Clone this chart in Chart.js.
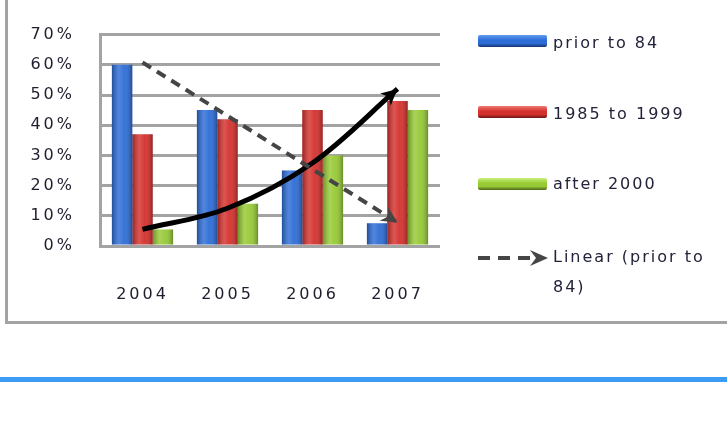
<!DOCTYPE html>
<html>
<head>
<meta charset="utf-8">
<script src="https://cdn.jsdelivr.net/npm/chart.js@4"></script>
<style>
  html, body { margin: 0; padding: 0; background: #fff; }
  #wrap { position: relative; width: 727px; height: 425px; overflow: hidden; }
  #c { position: absolute; left: 0; top: 0; }
  .frame { position: absolute; left: 5px; top: -10px; width: 740px; height: 331px;
           border-left: 3px solid #a3a3a3; border-bottom: 3px solid #a3a3a3; }
  .blue { position: absolute; left: 0; top: 377px; width: 727px; height: 5px; background: #3c9bf2; }
  .lg-mark { position: absolute; left: 478px; width: 69px; height: 12px; border-radius: 2px; }
  .lg-text { position: absolute; left: 553px; width: 170px; font: 16px "DejaVu Sans", sans-serif;
             letter-spacing: 2px; color: #22223a; line-height: 30px; white-space: normal; }
  .lg-line { position: absolute; left: 476px; }
</style>
</head>
<body>
<div id="wrap">
  <canvas id="c" width="727" height="425"></canvas>
  <div class="frame"></div>
  <div class="blue"></div>
  <div id="legend"></div>
</div>
<script>
const categories = ['2004', '2005', '2006', '2007'];
const yTickLabels = ['0%', '10%', '20%', '30%', '40%', '50%', '60%', '70%'];
const seriesNames = ['prior to 84', '1985 to 1999', 'after 2000', 'Linear (prior to 84)'];
const prior84 = [60, 45, 25, 7.5];
const from1985 = [37, 42, 45, 48];
const after2000 = [5.5, 14, 30, 45];
const linearPrior84 = [60.8, 43.1, 25.4, 7.8];
const handCurve = [5.5, 12.5, 27.5, 52];

const barColors = ['#2c6cd6', '#d4302c', '#96c934'];
const barLight = ['#5f9cf0', '#f07a74', '#c8f07a'];

const spacingPlugin = {
  id: 'spacing',
  beforeLayout(chart) { chart.ctx.letterSpacing = '3px'; },
  beforeDraw(chart) { chart.ctx.letterSpacing = '3px'; }
};

const shadePlugin = {
  id: 'shade',
  afterDatasetDraw(chart, args) {
    const meta = args.meta;
    if (meta.type !== 'bar') return;
    const ctx = chart.ctx;
    ctx.save();
    meta.data.forEach(el => {
      const p = el.getProps(['x', 'y', 'base', 'width'], true);
      const left = p.x - p.width / 2;
      const g = ctx.createLinearGradient(left, 0, left + p.width, 0);
      g.addColorStop(0, 'rgba(0,0,0,0.28)');
      g.addColorStop(0.35, 'rgba(255,255,255,0.18)');
      g.addColorStop(0.6, 'rgba(255,255,255,0.05)');
      g.addColorStop(1, 'rgba(0,0,0,0.3)');
      ctx.fillStyle = g;
      ctx.fillRect(left, p.y, p.width, p.base - p.y);
    });
    ctx.restore();
  }
};

const arrowPlugin = {
  id: 'arrows',
  afterDatasetsDraw(chart) {
    const ctx = chart.ctx;
    chart.data.datasets.forEach((ds, i) => {
      if (!ds.arrow) return;
      const meta = chart.getDatasetMeta(i);
      const pts = meta.data;
      const last = pts[pts.length - 1];
      const prev = pts[pts.length - 2];
      let fx = prev.x, fy = prev.y;
      if (ds.arrow === 'curve' && last.cp1x !== undefined) { fx = last.cp1x; fy = last.cp1y; }
      const ang = Math.atan2(last.y - fy, last.x - fx);
      ctx.save();
      ctx.translate(last.x, last.y);
      ctx.rotate(ang);
      ctx.fillStyle = ds.borderColor;
      ctx.beginPath();
      if (ds.arrow === 'curve') {
        ctx.moveTo(0, 0);
        ctx.lineTo(-16, -8);
        ctx.lineTo(-12, 0);
        ctx.lineTo(-16, 8);
      } else {
        ctx.moveTo(0, 0);
        ctx.lineTo(-16, -8);
        ctx.lineTo(-11, 0);
        ctx.lineTo(-16, 8);
      }
      ctx.closePath();
      ctx.fill();
      ctx.restore();
    });
  }
};

const chart = new Chart(document.getElementById('c'), {
  data: {
    labels: categories,
    datasets: [
      { type: 'line', label: seriesNames[3], data: linearPrior84, borderColor: '#454545', borderWidth: 4,
        borderDash: [10, 7], pointRadius: 0, tension: 0, order: 0, arrow: 'dash', fill: false },
      { type: 'line', label: 'trend arrow', data: handCurve, borderColor: '#000000', borderWidth: 5,
        pointRadius: 0, tension: 0.35, order: 0, arrow: 'curve', fill: false },
      { type: 'bar', label: seriesNames[0], data: prior84, backgroundColor: barColors[0], order: 1 },
      { type: 'bar', label: seriesNames[1], data: from1985, backgroundColor: barColors[1], order: 1 },
      { type: 'bar', label: seriesNames[2], data: after2000, backgroundColor: barColors[2], order: 1 }
    ]
  },
  options: {
    responsive: false,
    animation: false,
    devicePixelRatio: 1,
    layout: { padding: { left: 0, right: 287, top: 32, bottom: 119 } },
    datasets: { bar: { categoryPercentage: 0.72, barPercentage: 1.0 } },
    plugins: { legend: { display: false }, tooltip: { enabled: false } },
    scales: {
      x: {
        grid: { display: false },
        border: { display: false },
        ticks: { color: '#1e1e2e', padding: 31, font: { family: 'DejaVu Sans', size: 16 } },
        afterFit(s) { s.height = 60; }
      },
      y: {
        min: 0, max: 70,
        grid: { color: '#a3a3a3', lineWidth: 3, drawTicks: false },
        border: { display: true, color: '#a3a3a3', width: 3 },
        ticks: { stepSize: 10, color: '#1e1e2e', padding: 25,
                 font: { family: 'DejaVu Sans', size: 16 },
                 callback: (v) => yTickLabels[Math.round(v / 10)] },
        afterFit(s) { s.width = 100; }
      }
    }
  },
  plugins: [spacingPlugin, shadePlugin, arrowPlugin]
});

// HTML legend built from the dataset names
const legend = document.getElementById('legend');
const rows = [
  { name: seriesNames[0], color: barColors[0], light: barLight[0], cy: 41, ty: 43 },
  { name: seriesNames[1], color: barColors[1], light: barLight[1], cy: 112, ty: 114 },
  { name: seriesNames[2], color: barColors[2], light: barLight[2], cy: 184, ty: 184 }
];
rows.forEach(r => {
  const m = document.createElement('div');
  m.className = 'lg-mark';
  m.style.top = (r.cy - 6) + 'px';
  m.style.background = `linear-gradient(to bottom, ${r.light} 0%, ${r.color} 45%, ${r.color} 70%, rgba(0,0,0,0.5) 100%), ${r.color}`;
  legend.appendChild(m);
  const t = document.createElement('div');
  t.className = 'lg-text';
  t.style.top = (r.ty - 15) + 'px';
  t.textContent = r.name;
  legend.appendChild(t);
});
const ln = document.createElement('div');
ln.className = 'lg-line';
ln.style.top = '249px';
ln.innerHTML = '<svg width="74" height="18" xmlns="http://www.w3.org/2000/svg">' +
  '<line x1="2" y1="9" x2="58" y2="9" stroke="#454545" stroke-width="4" stroke-dasharray="12 8"/>' +
  '<polygon points="72,9 54,1 60,9 54,17" fill="#454545"/></svg>';
legend.appendChild(ln);
const lt = document.createElement('div');
lt.className = 'lg-text';
lt.style.top = (257 - 15) + 'px';
lt.textContent = seriesNames[3];
legend.appendChild(lt);
</script>
</body>
</html>
